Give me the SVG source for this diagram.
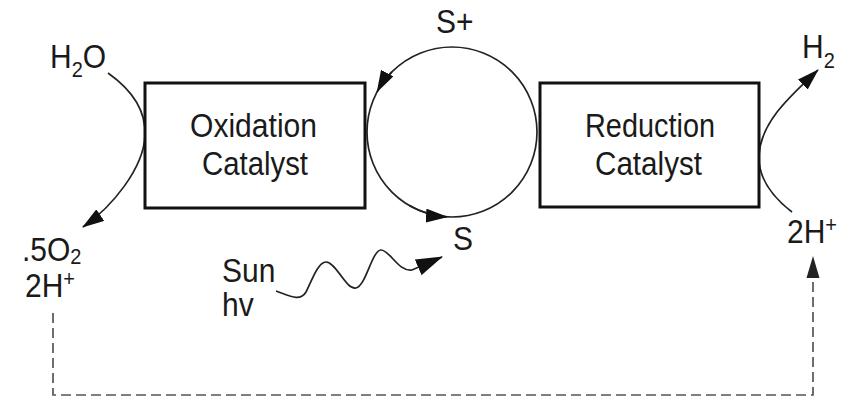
<svg xmlns="http://www.w3.org/2000/svg" width="843" height="400" viewBox="0 0 843 400">
<style>
  .box{fill:#fff;stroke:#111;stroke-width:3}
  .lbl{font-family:"Liberation Sans",Arial,sans-serif;font-size:30px;fill:#1a1a1a}
  .big{font-family:"Liberation Sans",Arial,sans-serif;font-size:34px;fill:#1a1a1a}
  .ln{fill:none;stroke:#222;stroke-width:1.7}
  .dash{fill:none;stroke:#555;stroke-width:1.7;stroke-dasharray:10 5}
</style>
<defs>
  <marker id="ah" markerUnits="userSpaceOnUse" markerWidth="22" markerHeight="14" refX="21" refY="7" orient="auto">
    <path d="M0,0 L22,7 L0,14 z" fill="#111"/>
  </marker>
  <marker id="ahw" markerUnits="userSpaceOnUse" markerWidth="27" markerHeight="17" refX="26" refY="8.5" orient="auto">
    <path d="M0,0 L27,8.5 L0,17 z" fill="#111"/>
  </marker>
</defs>
<rect width="843" height="400" fill="#fff"/>
<g id="connectors">
  <circle class="ln" cx="452" cy="132" r="85"/>
  <path class="ln" d="M391.9,71.9 A85,85 0 0 0 377.2,91.6" marker-end="url(#ah)"/>
  <path class="ln" d="M409.5,205.6 A85,85 0 0 0 447,216.85" marker-end="url(#ah)"/>
  <path class="ln" d="M108,73 C132,90 146,110 145,135 C144,168 112,207 83,227" marker-end="url(#ah)"/>
  <path class="ln" d="M792,212 C770,195 758,175 759,155 C761,120 795,92 818,70" marker-end="url(#ah)"/>
  <path class="ln" d="M276,291 C290,296 300,302 306,292 C312,280 318,262 326,262 C336,262 346,290 356,288 C366,286 372,250 381,250 C390,250 398,272 412,270 L442,257" marker-end="url(#ahw)"/>
  <path class="dash" d="M53,313 L53,395 L813,395 L813,262"/>
  <path d="M813,256 L806.5,278 L819.5,278 z" fill="#222"/>
</g>
<g id="oxidation-catalyst">
  <rect class="box" x="145" y="83" width="220" height="125"/>
  <text class="big" x="190" y="137" textLength="127" lengthAdjust="spacingAndGlyphs">Oxidation</text>
  <text class="big" x="202" y="175" textLength="106" lengthAdjust="spacingAndGlyphs">Catalyst</text>
</g>
<g id="reduction-catalyst">
  <rect class="box" x="540" y="83" width="219" height="124"/>
  <text class="big" x="585" y="137" textLength="130" lengthAdjust="spacingAndGlyphs">Reduction</text>
  <text class="big" x="595" y="175" textLength="107" lengthAdjust="spacingAndGlyphs">Catalyst</text>
</g>
<g id="labels">
  <text class="lbl" transform="translate(50,68) scale(1,1.1)">H<tspan font-size="20" dy="8">2</tspan><tspan dy="-8">O</tspan></text>
  <text class="lbl" transform="translate(22,261) scale(1,1.1)">.5O<tspan font-size="20" dy="3">2</tspan></text>
  <text class="lbl" transform="translate(25,297) scale(1,1.1)">2H<tspan font-size="20" dy="-10">+</tspan></text>
  <text class="lbl" transform="translate(436,33) scale(1,1.1)">S+</text>
  <text class="lbl" transform="translate(453,250) scale(1,1.1)">S</text>
  <text class="lbl" transform="translate(802,58) scale(1,1.1)">H<tspan font-size="20" dy="9">2</tspan></text>
  <text class="lbl" transform="translate(787,243) scale(1,1.1)">2H<tspan font-size="20" dy="-10">+</tspan></text>
  <text class="lbl" transform="translate(222,282) scale(1,1.1)">Sun</text>
  <text class="lbl" transform="translate(222,316) scale(1,1.1)">hv</text>
</g>
</svg>
